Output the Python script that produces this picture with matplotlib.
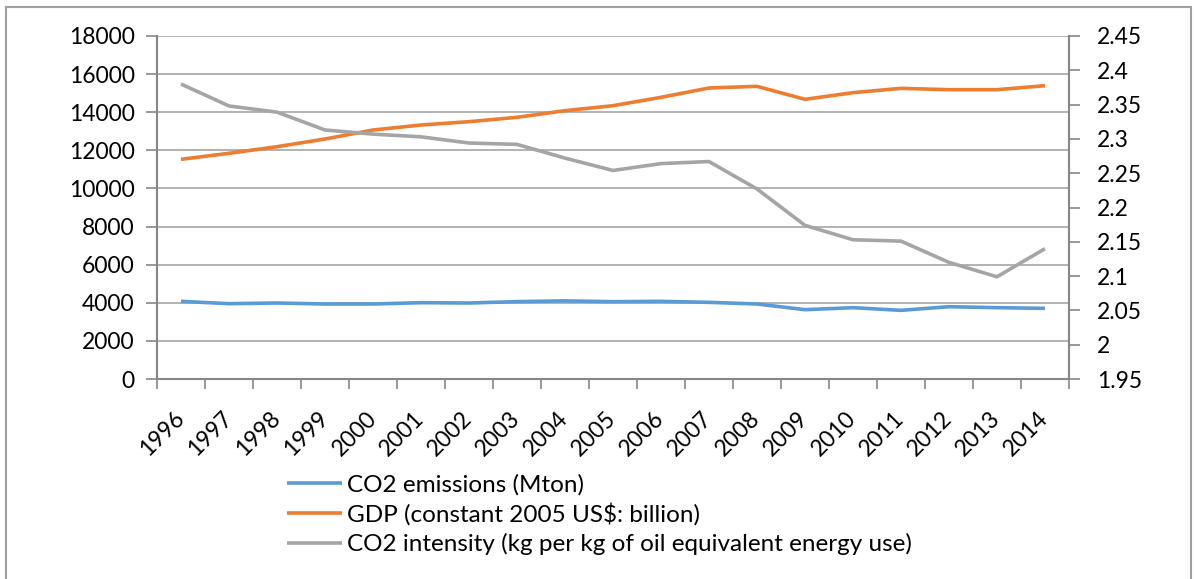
import matplotlib
matplotlib.use("Agg")
import matplotlib.pyplot as plt
from matplotlib.patches import Rectangle
from matplotlib.ticker import FixedLocator, FuncFormatter

plt.rcParams['font.family'] = ['Lato', 'DejaVu Sans']

years = [str(y) for y in range(1996, 2015)]
co2_emissions = [4076, 3953, 3988, 3936, 3936, 4005, 3988, 4060, 4100, 4058,
                 4076, 4023, 3936, 3638, 3743, 3603, 3795, 3743, 3708]
gdp = [11529, 11844, 12191, 12594, 13067, 13329, 13503, 13733, 14081, 14343,
       14781, 15271, 15358, 14676, 15026, 15253, 15183, 15183, 15393]
co2_intensity = [2.380, 2.348, 2.339, 2.313, 2.307, 2.303, 2.294, 2.292, 2.272, 2.254,
                 2.264, 2.267, 2.227, 2.174, 2.153, 2.151, 2.120, 2.099, 2.140]

labels = ["CO2 emissions (Mton)",
          "GDP (constant 2005 US$: billion)",
          "CO2 intensity (kg per kg of oil equivalent energy use)"]
colors = ["#5B9BD5", "#ED7D31", "#A5A5A5"]

W, H = 1194, 579
fig = plt.figure(figsize=(W / 100, H / 100), dpi=100)
ax = fig.add_axes([157 / W, 1 - 379 / H, (1069 - 157) / W, (379 - 36) / H])
ax2 = ax.twinx()

x = list(range(len(years)))
l1, = ax.plot(x, co2_emissions, color=colors[0], lw=2.6, solid_capstyle='butt')
l2, = ax.plot(x, gdp, color=colors[1], lw=2.6, solid_capstyle='butt')
l3, = ax2.plot(x, co2_intensity, color=colors[2], lw=2.6, solid_capstyle='butt')

axis_col = "#868686"
grid_col = "#a6a6a6"
fs = 16.5

ax.set_xlim(-0.5, len(years) - 0.5)
ax.set_ylim(0, 18000)
ax2.set_ylim(1.95, 2.45)

ax.set_yticks(range(0, 18001, 2000))
ax.yaxis.grid(True, color=grid_col, lw=1.2)
ax.set_axisbelow(True)

r_ticks = [1.95 + 0.05 * i for i in range(11)]
ax2.yaxis.set_major_locator(FixedLocator(r_ticks))
ax2.yaxis.set_major_formatter(FuncFormatter(lambda v, p: f"{round(v, 2):g}"))

ax.set_xticks(x)
ax.set_xticklabels(years, rotation=45, ha='right', va='center',
                   rotation_mode='anchor')
ax.set_xticks([i - 0.5 for i in range(len(years) + 1)], minor=True)
ax.tick_params(axis='x', which='major', length=0, pad=26, labelsize=fs)
ax.tick_params(axis='x', which='minor', length=7, width=1.2, color=axis_col,
               direction='out')
ax.tick_params(axis='y', length=8, width=1.2, color=axis_col, pad=8, labelsize=fs)
ax2.tick_params(axis='y', length=8, width=1.2, color=axis_col, pad=12, labelsize=fs)

for a in (ax, ax2):
    for s in a.spines.values():
        s.set_visible(False)
ax.spines['left'].set_visible(True)
ax.spines['bottom'].set_visible(True)
ax2.spines['right'].set_visible(True)
for s in (ax.spines['left'], ax.spines['bottom'], ax2.spines['right']):
    s.set_color(axis_col)
    s.set_linewidth(1.5)

fig.legend([l1, l2, l3], labels, loc='upper left',
           bbox_to_anchor=(287 / W, 1 - 474 / H), frameon=False,
           fontsize=17.5, handlelength=2.25, handletextpad=0.2,
           labelspacing=0.3, borderpad=0, borderaxespad=0)

fig.patches.append(Rectangle((6 / W, -0.05), (1191 - 6) / W, 1.05 - 6.5 / H,
                             transform=fig.transFigure, fill=False,
                             edgecolor="#a0a0a0", lw=1.5))

fig.savefig("out.png", dpi=100, facecolor="white")
